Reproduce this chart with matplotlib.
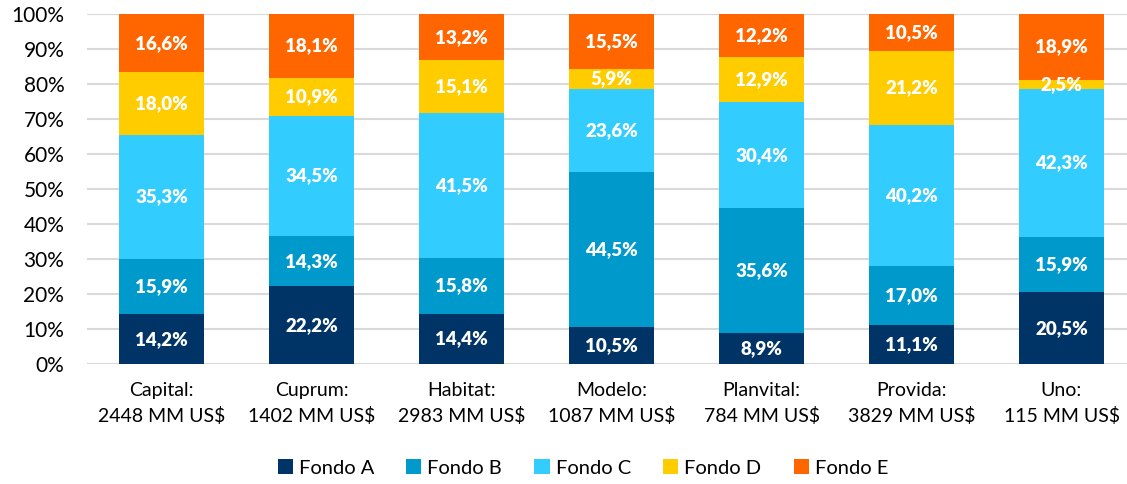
import numpy as np
import matplotlib.pyplot as plt

# datos: composición por fondo de cada AFP (%)
afp = ['Capital', 'Cuprum', 'Habitat', 'Modelo', 'Planvital', 'Provida', 'Uno']
montos = [2448, 1402, 2983, 1087, 784, 3829, 115]
fondos = ['Fondo A', 'Fondo B', 'Fondo C', 'Fondo D', 'Fondo E']
fondo_a = [14.2, 22.2, 14.4, 10.5, 8.9, 11.1, 20.5]
fondo_b = [15.9, 14.3, 15.8, 44.5, 35.6, 17.0, 15.9]
fondo_c = [35.3, 34.5, 41.5, 23.6, 30.4, 40.2, 42.3]
fondo_d = [18.0, 10.9, 15.1, 5.9, 12.9, 21.2, 2.5]
fondo_e = [16.6, 18.1, 13.2, 15.5, 12.2, 10.5, 18.9]

colores = ['#003366', '#0099CC', '#33CCFF', '#FFCC00', '#FF6600']

plt.rcParams['font.family'] = ['Lato', 'DejaVu Sans']

fig = plt.figure(figsize=(11.27, 4.84), dpi=100)
ax = fig.add_axes([86.5 / 1127, 120 / 484, (1127 - 86.5) / 1127, (364 - 14.3) / 484])

x = np.arange(len(afp))
base = np.zeros(len(afp))
series = [fondo_a, fondo_b, fondo_c, fondo_d, fondo_e]
for nombre, valores, color in zip(fondos, series, colores):
    valores = np.array(valores)
    ax.bar(x, valores, bottom=base, width=85 / 150, color=color,
           label=nombre, zorder=3)
    for xi, b, v in zip(x, base, valores):
        ax.text(xi, b + v / 2, f'{v:.1f}%'.replace('.', ','), ha='center',
                va='center', color='white', fontsize=13.5, fontweight='heavy',
                zorder=4)
    base = base + valores

ax.set_xlim(-0.5, (1127 - 86.5) / 150 - 0.5)
ax.set_ylim(0, 100)
ax.set_yticks(np.arange(0, 101, 10))
ax.set_yticklabels([f'{v}%' for v in range(0, 101, 10)], fontsize=15)
ax.set_xticks(x)
ax.set_xticklabels([f'{a}:\n{m} MM US$' for a, m in zip(afp, montos)],
                   fontsize=14, linespacing=1.5)
ax.tick_params(length=0, pad=13)
ax.tick_params(axis='y', pad=16)
ax.grid(axis='y', color='#D9D9D9', linewidth=1.5, zorder=0)
for s in ax.spines.values():
    s.set_visible(False)

ax.legend(loc='center', bbox_to_anchor=(0.477, -0.297), ncol=5, frameon=False,
          fontsize=14.5, handlelength=0.75, handleheight=0.75, handletextpad=0.3,
          columnspacing=1.6, borderpad=0)

fig.savefig('out.png', dpi=100)
